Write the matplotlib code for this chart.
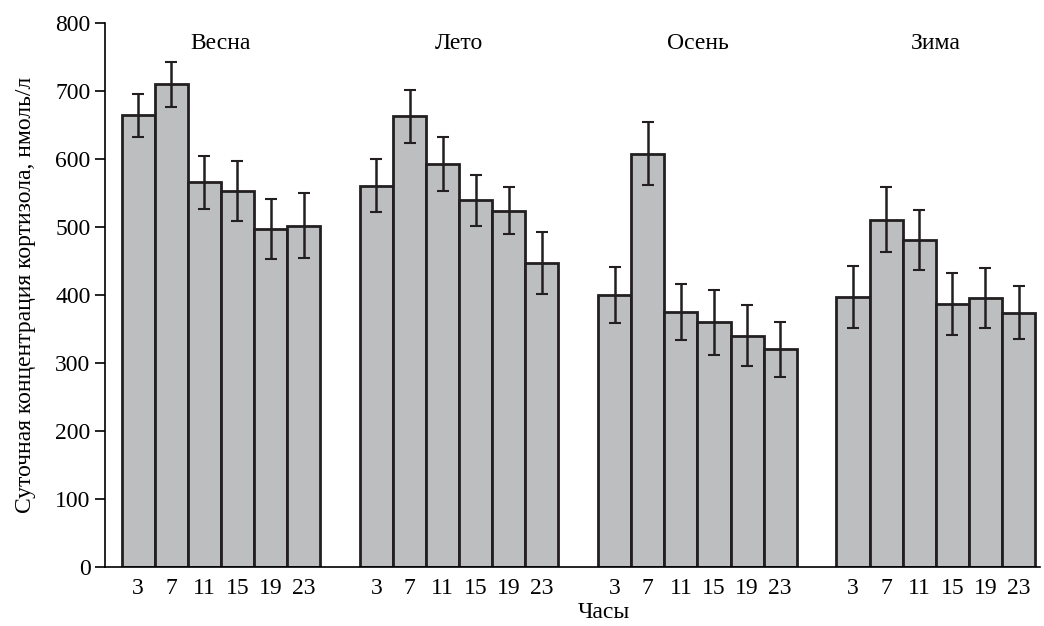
import numpy as np
import matplotlib.pyplot as plt

plt.rcParams['font.family'] = ['Liberation Serif', 'DejaVu Serif']

# данные
seasons = ['Весна', 'Лето', 'Осень', 'Зима']
hours = ['3', '7', '11', '15', '19', '23']
spring = [664, 710, 566, 553, 497, 502]
spring_err = [31, 33, 39, 44, 44, 48]
summer = [561, 663, 593, 539, 524, 447]
summer_err = [39, 39, 40, 38, 35, 46]
autumn = [400, 608, 375, 360, 340, 320]
autumn_err = [41, 46, 41, 48, 45, 41]
winter = [397, 511, 481, 387, 395, 374]
winter_err = [46, 48, 44, 46, 44, 39]

values = [spring, summer, autumn, winter]
errors = [spring_err, summer_err, autumn_err, winter_err]

fig = plt.figure(figsize=(10.44, 6.26), dpi=100)
ax = fig.add_axes([0.1006, 0.0942, 0.8956, 0.8691])

group_step = 7.2
xticks = []
xlabels = []
for g, (vals, errs) in enumerate(zip(values, errors)):
    x = g * group_step + np.arange(len(hours))
    ax.bar(x, vals, width=1.0, color='#bcbec0', edgecolor='#231f20', linewidth=2)
    ax.errorbar(x, vals, yerr=errs, fmt='none', ecolor='#231f20',
                elinewidth=1.8, capsize=4.5, capthick=1.5)
    ax.text(x.mean(), 770, seasons[g], ha='center', va='center', fontsize=17)
    xticks.extend(x)
    xlabels.extend(hours)

ax.set_xlim(-1.0, 3 * group_step + 5 + 0.65)
ax.set_ylim(0, 800)
ax.set_yticks(range(0, 801, 100))
ax.set_xticks(xticks)
ax.set_xticklabels(xlabels, fontsize=17)
ax.tick_params(axis='x', length=0, pad=8)
ax.tick_params(axis='y', labelsize=17, length=7, width=1.2, direction='out')
ax.spines['top'].set_visible(False)
ax.spines['right'].set_visible(False)
ax.spines['left'].set_linewidth(1.2)
ax.spines['bottom'].set_linewidth(1.2)

ax.set_ylabel('Суточная концентрация кортизола, нмоль/л', fontsize=17, labelpad=14)
fig.text(0.578, 0.022, 'Часы', ha='center', va='center', fontsize=17)

fig.savefig('out.png', dpi=100)
